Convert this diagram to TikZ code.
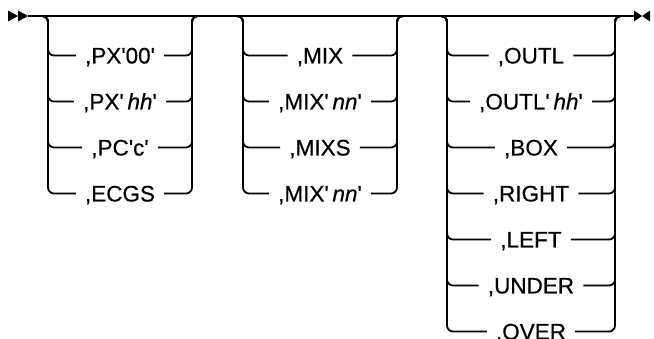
\documentclass[tikz,border=0pt]{standalone}
\usepackage{fontspec}
\newfontfamily\diagfont{Liberation Sans}[FakeBold=0.4]
\usepackage{tikz}
\newcommand\squote{\textquotesingle}

\tikzset{
  mainline/.style={line width=1.3pt},
  branch/.style={line width=1.8pt, rounded corners=6pt},
  choice/.style={font=\diagfont\fontsize{22.5}{25}\selectfont, text height=16pt, text depth=0pt, inner xsep=9pt, inner ysep=0pt},
  tipmark/.style={fill=black}
}

\begin{document}
\begin{tikzpicture}[x=1pt, y=-1pt]
    \useasboundingbox (0,0) rectangle (654,339);

    % Main line with start and end marks
    \coordinate (start) at (28,16);
    \coordinate (stop) at (634,16);
    \draw[mainline] (start) -- (stop);
    \fill[tipmark] (8,10.5) -- (18,16) -- (8,21.5) -- cycle;
    \fill[tipmark] (18,10.5) -- (28,16) -- (18,21.5) -- cycle;
    \fill[tipmark] (634,10.5) -- (642,16) -- (634,21.5) -- cycle;
    \fill[tipmark] (650,10.5) -- (642,16) -- (650,21.5) -- cycle;

    % Group 1
    \coordinate (g1in) at (38,16);
    \coordinate (g1lt) at (48,16);
    \coordinate (g1rt) at (192,16);
    \coordinate (g1out) at (202,16);
    \foreach \t [count=\i from 0] in {{,PX\squote00\squote}, {,PX\squote\,\textit{hh}\squote}, {,PC\squote c\squote}, {,ECGS}} {
        \node[choice] (g1r\i) at (120,{55.5+46*\i}) {\t};
        \draw[branch] (g1in) -- (g1lt) |- (g1r\i.west);
        \draw[branch] (g1r\i.east) -| (g1rt) -- (g1out);
    }

    % Group 2
    \coordinate (g2in) at (233,16);
    \coordinate (g2lt) at (243,16);
    \coordinate (g2rt) at (397,16);
    \coordinate (g2out) at (407,16);
    \foreach \t [count=\i from 0] in {{,MIX}, {,MIX\squote\,\textit{nn}\squote}, {,MIXS}, {,MIX\squote\,\textit{nn}\squote}} {
        \node[choice] (g2r\i) at (320,{55.5+46*\i}) {\t};
        \draw[branch] (g2in) -- (g2lt) |- (g2r\i.west);
        \draw[branch] (g2r\i.east) -| (g2rt) -- (g2out);
    }

    % Group 3
    \coordinate (g3in) at (437,16);
    \coordinate (g3lt) at (447,16);
    \coordinate (g3rt) at (615,16);
    \coordinate (g3out) at (625,16);
    \foreach \t [count=\i from 0] in {{,OUTL}, {,OUTL\squote\,\textit{hh}\squote}, {,BOX}, {,RIGHT}, {,LEFT}, {,UNDER}, {.OVER}} {
        \node[choice] (g3r\i) at (531,{55.5+46*\i}) {\t};
        \draw[branch] (g3in) -- (g3lt) |- (g3r\i.west);
        \draw[branch] (g3r\i.east) -| (g3rt) -- (g3out);
    }
\end{tikzpicture}
\end{document}
